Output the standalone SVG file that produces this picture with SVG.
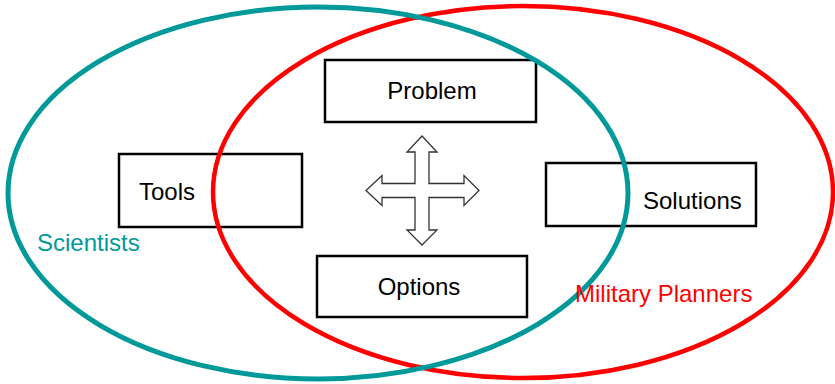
<svg xmlns="http://www.w3.org/2000/svg" width="835" height="384" viewBox="0 0 835 384">
<style>
  .box { fill: none; stroke: #000; stroke-width: 2.5; }
  .lbl { font-family: "Liberation Sans", Arial, sans-serif; font-size: 24px; fill: #000; }
  .grp { font-family: "Liberation Sans", Arial, sans-serif; font-size: 24px; }
</style>
<rect width="835" height="384" fill="#fff"/>
<g id="problem"><rect class="box" x="325" y="60" width="211" height="62"/><text class="lbl" x="432" y="99" text-anchor="middle">Problem</text></g>
<g id="tools"><rect class="box" x="119" y="154" width="183" height="73"/><text class="lbl" x="139" y="200">Tools</text></g>
<g id="solutions"><rect class="box" x="546" y="163" width="210" height="63"/><text class="lbl" x="643" y="209">Solutions</text></g>
<g id="options"><rect class="box" x="317" y="256" width="210" height="61"/><text class="lbl" x="419" y="295" text-anchor="middle">Options</text></g>
<g id="military-planners"><ellipse cx="523" cy="192" rx="310" ry="186" fill="none" stroke="#ff0000" stroke-width="4.5"/></g>
<g id="scientists"><ellipse cx="318" cy="193" rx="310" ry="186" fill="none" stroke="#009999" stroke-width="5"/></g>
<g id="connectors">
  <path d="M422,136 L437,152 L429,152 L429,183.5 L464,183.5 L464,175.5 L479,190.5 L464,205.5 L464,197.5 L429,197.5 L429,230 L437,230 L422,245 L407,230 L415,230 L415,197.5 L382,197.5 L382,205.5 L366,190.5 L382,175.5 L382,183.5 L415,183.5 L415,152 L407,152 Z" fill="#fff" stroke="#333" stroke-width="1.3"/>
</g>
<text class="grp" x="37" y="251" fill="#009999">Scientists</text>
<text class="grp" x="575" y="302" fill="#ff0000">Military Planners</text>
</svg>
